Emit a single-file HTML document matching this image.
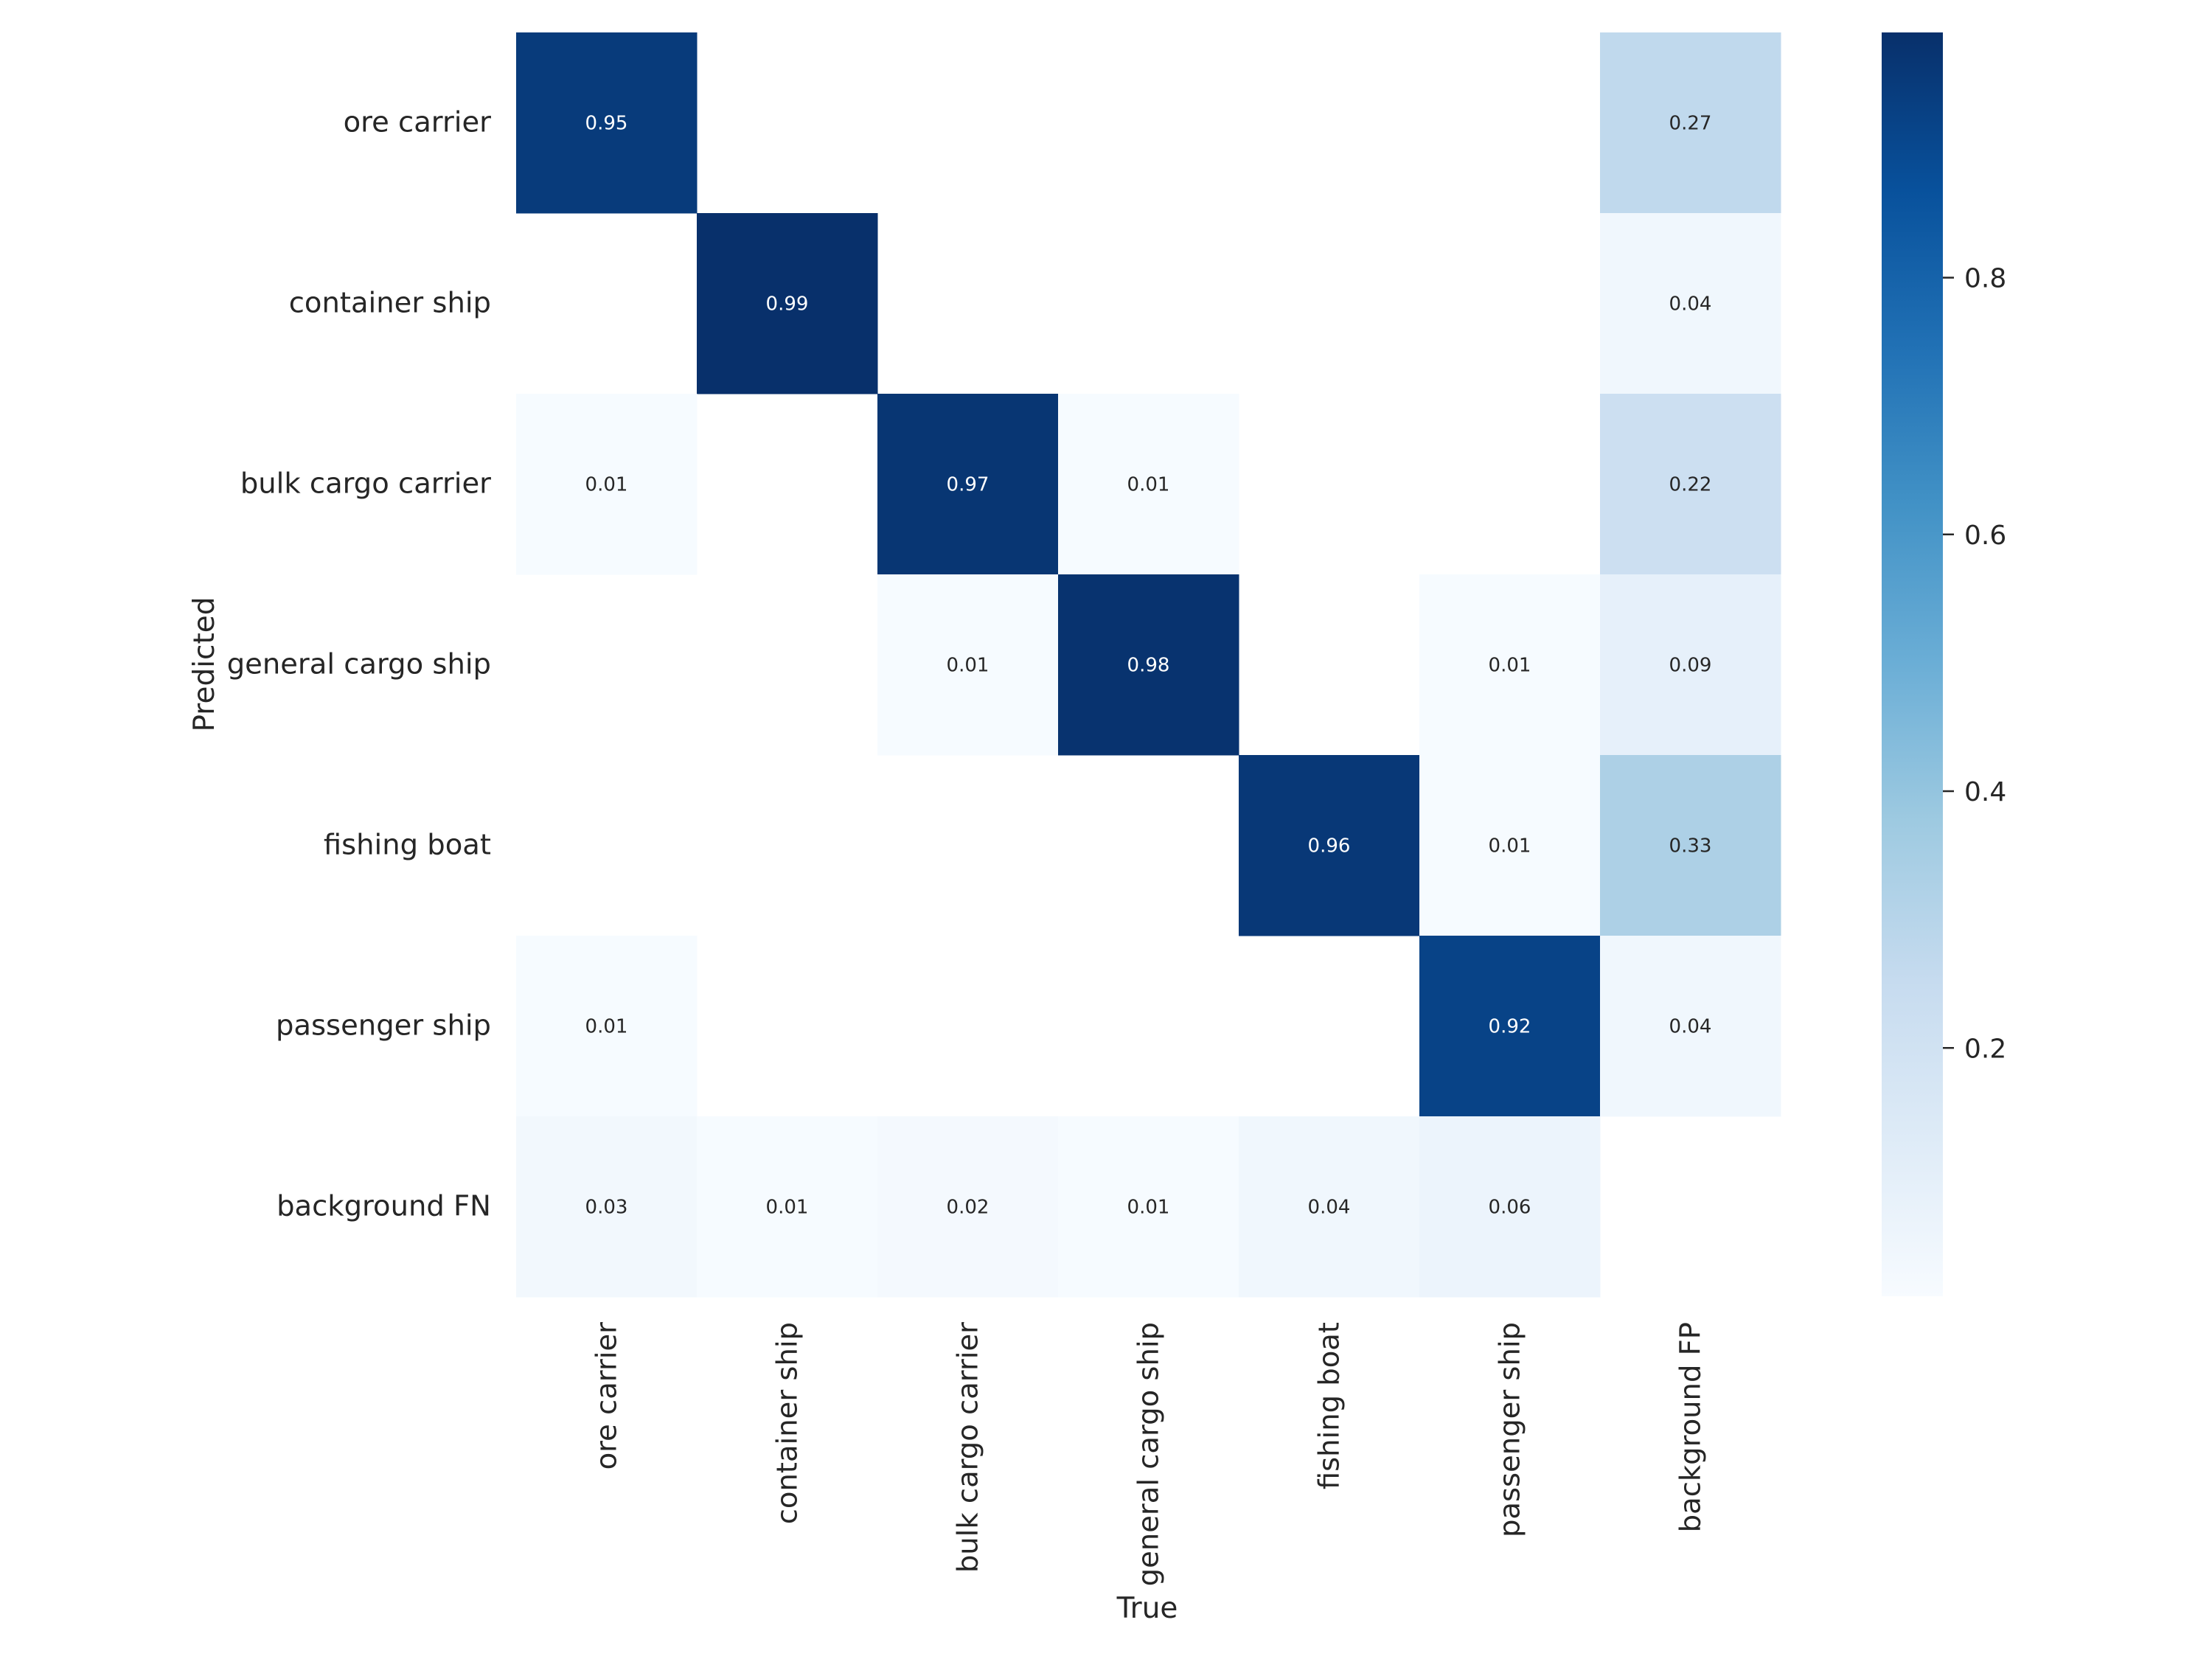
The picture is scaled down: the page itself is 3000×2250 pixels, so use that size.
<!DOCTYPE html>
<html><head><meta charset="utf-8"><style>
html,body{margin:0;padding:0;background:#fff;}
svg{display:block;font-family:"DejaVu Sans","Liberation Sans",sans-serif;}
</style></head><body>
<svg id="chart" width="3000" height="2250" viewBox="0 0 3000 2250" xmlns="http://www.w3.org/2000/svg"></svg>
<script>
const trueLabels = ["ore carrier","container ship","bulk cargo carrier","general cargo ship","fishing boat","passenger ship","background FP"];
const predLabels = ["ore carrier","container ship","bulk cargo carrier","general cargo ship","fishing boat","passenger ship","background FN"];
const row0 = [0.95,null,null,null,null,null,0.27];
const row1 = [null,0.99,null,null,null,null,0.04];
const row2 = [0.01,null,0.97,0.01,null,null,0.22];
const row3 = [null,null,0.01,0.98,null,0.01,0.09];
const row4 = [null,null,null,null,0.96,0.01,0.33];
const row5 = [0.01,null,null,null,null,0.92,0.04];
const row6 = [0.03,0.01,0.02,0.01,0.04,0.06,null];
const colorbarTicks = [0.2,0.4,0.6,0.8];
const vmin = 0.0066, vmax = 0.991;

const rows=[row0,row1,row2,row3,row4,row5,row6];
const svg=document.getElementById('chart');
const NS='http://www.w3.org/2000/svg';
const X0=700,Y0=44,CW=245,CH=245;
const blues=["#f7fbff","#deebf7","#c6dbef","#9ecae1","#6baed6","#4292c6","#2171b5","#08519c","#08306b"];
function hex(h){return [1,3,5].map(i=>parseInt(h.substr(i,2),16));}
function cmap(v){let t=(v-vmin)/(vmax-vmin);t=Math.max(0,Math.min(1,t));const p=t*(blues.length-1);const i=Math.min(Math.floor(p),blues.length-2);const f=p-i;const a=hex(blues[i]),b=hex(blues[i+1]);return 'rgb('+a.map((c,k)=>Math.round(c+(b[k]-c)*f)).join(',')+')';}
function xs(j){return X0+j*CW;}
function ys(i){return Y0+i*CH;}
function cbY(v){return 1758-(v-vmin)/(vmax-vmin)*(1758-44);}
function el(tag,attrs,text){const e=document.createElementNS(NS,tag);for(const k in attrs)e.setAttribute(k,attrs[k]);if(text!=null)e.textContent=text;svg.appendChild(e);return e;}

rows.forEach((r,i)=>r.forEach((v,j)=>{
  if(v==null)return;
  const c=el('rect',{x:xs(j),y:ys(i),width:CW+0.5,height:CH+0.5,fill:cmap(v)});
  
  
  const t=el('text',{x:xs(j)+CW/2,y:ys(i)+CH/2+9,'text-anchor':'middle','font-size':26,fill:v>0.5?'#ffffff':'#262626'},v.toFixed(2));
  
  
}));
predLabels.forEach((l,i)=>{
  const t=el('text',{x:666,y:ys(i)+CH/2+12,'text-anchor':'end','font-size':38.5,fill:'#262626'},l);
  
  
});
trueLabels.forEach((l,j)=>{
  const cx=xs(j)+CW/2+13;
  const t=el('text',{x:cx,y:1793,'text-anchor':'end','font-size':38.5,fill:'#262626',transform:'rotate(-90 '+cx+' 1793)'},l);
  
  
});
const xt=el('text',{x:1556,y:2194,'text-anchor':'middle','font-size':39,fill:'#262626'},'True');


const yt=el('text',{x:290,y:901,'text-anchor':'middle','font-size':39,fill:'#262626',transform:'rotate(-90 290 901)'},'Predicted');



const defs=el('defs',{});
const g=document.createElementNS(NS,'linearGradient');
g.setAttribute('id','cbg');g.setAttribute('x1','0');g.setAttribute('y1','1');g.setAttribute('x2','0');g.setAttribute('y2','0');
blues.forEach((c,k)=>{const s=document.createElementNS(NS,'stop');s.setAttribute('offset',k/(blues.length-1));s.setAttribute('stop-color',c);g.appendChild(s);});
defs.appendChild(g);
const cb=el('rect',{x:2552,y:44,width:83,height:1714,fill:'url(#cbg)'});


colorbarTicks.forEach(v=>{
  const y=cbY(v);
  const tk=el('line',{x1:2635,x2:2650,y1:y,y2:y,stroke:'#262626','stroke-width':2.5});
  
  
  const tl=el('text',{x:2664,y:y+13,'font-size':36,fill:'#262626'},v.toFixed(1));
  
  
});
</script>
</body></html>
